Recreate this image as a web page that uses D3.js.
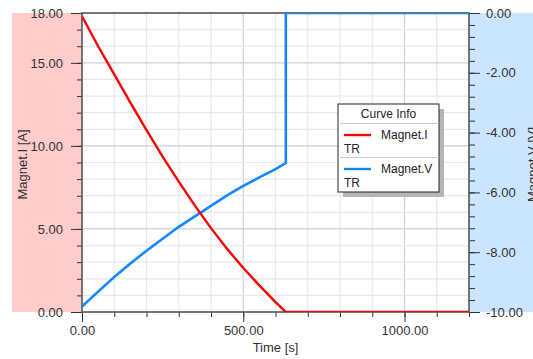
<!DOCTYPE html>
<html>
<head>
<meta charset="utf-8">
<script src="https://cdn.jsdelivr.net/npm/d3@7"></script>
<style>
  body { margin: 0; background: #fff; }
  svg { display: block; font-family: "Liberation Sans", Arial, sans-serif; }
  .tick text { fill: #333; font-size: 13px; }
  .tick line { stroke: #333; }
</style>
</head>
<body>
<div id="chart"></div>
<script>
// time [s]
const times = [0, 50, 100, 150, 200, 250, 300, 350, 400, 450, 500, 550, 600, 632, 632, 1200];
// Magnet.I [A]
const currentValues = [17.8, 16.0, 14.3, 12.6, 10.95, 9.35, 7.85, 6.4, 5.05, 3.8, 2.65, 1.6, 0.6, 0, 0, 0];
// Magnet.V [V]
const voltageValues = [-9.82, -9.32, -8.83, -8.38, -7.95, -7.55, -7.15, -6.8, -6.45, -6.1, -5.78, -5.5, -5.22, -5.02, 0, 0];

const xMajor = [0, 500, 1000];
const leftMajor = [0, 5, 10, 15, 18];
const rightMajor = [-10, -8, -6, -4, -2, 0];

const legendItems = [
  { name: 'Magnet.I', sub: 'TR', color: '#ff0000' },
  { name: 'Magnet.V', sub: 'TR', color: '#1188ff' }
];

const W = 533, H = 359;
const pL = 82, pR = 469, pT = 13, pB = 312;

const svg = d3.select('#chart').append('svg').attr('width', W).attr('height', H);

const x = d3.scaleLinear().domain([0, 1200]).range([pL, pR]);
const yL = d3.scaleLinear().domain([0, 18]).range([pB, pT]);
const yR = d3.scaleLinear().domain([-10, 0]).range([pB, pT]);

// coloured axis bands
svg.append('rect').attr('x', 12).attr('y', pT).attr('width', pL - 12).attr('height', pB - pT).attr('fill', '#ffcccc');
svg.append('rect').attr('x', pR).attr('y', pT).attr('width', W - pR).attr('height', pB - pT).attr('fill', '#cce5ff');

// gridlines
let grid = svg.append('g').attr('class', 'grid');
grid.selectAll('line.xgrid')
  .data(d3.range(100, 1200, 100))
  .enter().append('line')
  .attr('x1', d => x(d)).attr('x2', d => x(d))
  .attr('y1', pT).attr('y2', pB)
  .style('stroke', d => d % 500 === 0 ? '#cfcfcf' : '#e8e8e8')
  .style('stroke-width', 1.2);
grid.selectAll('line.ygrid')
  .data(d3.range(1, 18, 1))
  .enter().append('line')
  .attr('x1', pL).attr('x2', pR)
  .attr('y1', d => yL(d)).attr('y2', d => yL(d))
  .style('stroke', d => d % 5 === 0 ? '#cfcfcf' : '#e8e8e8')
  .style('stroke-width', 1.2);

// axes (plain hyphen for negatives, as in the original)
const fmt = d => d.toFixed(2);
svg.append('g').attr('transform', 'translate(0,' + pB + ')')
  .call(d3.axisBottom(x).tickValues(d3.range(0, 1201, 100)).tickSize(5).tickFormat(''))
  .call(g => g.select('.domain').remove());
svg.append('g').attr('transform', 'translate(0,' + pB + ')')
  .call(d3.axisBottom(x).tickValues(xMajor).tickSize(10).tickPadding(4).tickFormat(fmt))
  .call(g => g.select('.domain').remove());

svg.append('g').attr('transform', 'translate(' + pL + ',0)')
  .call(d3.axisLeft(yL).tickValues(d3.range(0, 19, 1)).tickSize(5).tickFormat(''))
  .call(g => g.select('.domain').remove());
svg.append('g').attr('transform', 'translate(' + pL + ',0)')
  .call(d3.axisLeft(yL).tickValues(leftMajor).tickSize(11).tickPadding(8).tickFormat(fmt))
  .call(g => g.select('.domain').remove());

svg.append('g').attr('transform', 'translate(' + pR + ',0)')
  .call(d3.axisRight(yR).tickValues(d3.range(0, 26).map(i => -10 + i * 0.4)).tickSize(6).tickFormat(''))
  .call(g => g.select('.domain').remove());
svg.append('g').attr('transform', 'translate(' + pR + ',0)')
  .call(d3.axisRight(yR).tickValues(rightMajor).tickSize(11).tickPadding(6).tickFormat(fmt))
  .call(g => g.select('.domain').remove());

// plot border
svg.append('rect')
  .attr('x', pL).attr('y', pT).attr('width', pR - pL).attr('height', pB - pT)
  .attr('fill', 'none').attr('stroke', '#555').attr('stroke-width', 1.6);

// curves
svg.append('clipPath').attr('id', 'plotclip')
  .append('rect').attr('x', pL).attr('y', pT).attr('width', pR - pL).attr('height', pB - pT);

let curves = svg.append('g').attr('clip-path', 'url(#plotclip)');
let iLine = d3.line().x((d, i) => x(times[i])).y(d => yL(d));
let vLine = d3.line().x((d, i) => x(times[i])).y(d => yR(d));

curves.append('path').datum(voltageValues)
  .attr('d', vLine).attr('fill', 'none')
  .attr('stroke', legendItems[1].color).attr('stroke-width', 2.6);
curves.append('path').datum(currentValues)
  .attr('d', iLine).attr('fill', 'none')
  .attr('stroke', legendItems[0].color).attr('stroke-width', 2.4);

// axis titles
svg.append('text')
  .attr('transform', 'translate(27,' + ((pT + pB) / 2 + 2) + ') rotate(-90)')
  .attr('text-anchor', 'middle').attr('font-size', 13).attr('fill', '#333')
  .text('Magnet.I [A]');
svg.append('text')
  .attr('transform', 'translate(537,' + ((pT + pB) / 2 + 2) + ') rotate(-90)')
  .attr('text-anchor', 'middle').attr('font-size', 13).attr('fill', '#333')
  .text('Magnet.V [V]');
svg.append('text')
  .attr('x', (pL + pR) / 2).attr('y', 352)
  .attr('text-anchor', 'middle').attr('font-size', 13).attr('fill', '#333')
  .text('Time [s]');

// legend
const lx = 338, ly = 104, lw = 101, lh = 88;
let legend = svg.append('g');
legend.append('rect').attr('x', lx + 5).attr('y', ly + 5).attr('width', lw).attr('height', lh).attr('fill', '#b5b5b5');
legend.append('rect').attr('x', lx).attr('y', ly).attr('width', lw).attr('height', lh)
  .attr('fill', '#fff').attr('stroke', '#222').attr('stroke-width', 1);
legend.append('text').attr('x', lx + lw / 2).attr('y', ly + 14).attr('text-anchor', 'middle')
  .attr('font-size', 12).attr('fill', '#222').text('Curve Info');
legend.append('line').attr('x1', lx).attr('x2', lx + lw).attr('y1', ly + 19.5).attr('y2', ly + 19.5)
  .attr('stroke', '#ccc');

legendItems.forEach((item, i) => {
  let oy = ly + 20 + i * 34;
  let g = legend.append('g');
  if (i > 0) {
    g.append('line').attr('x1', lx).attr('x2', lx + lw).attr('y1', oy - 0.5).attr('y2', oy - 0.5).attr('stroke', '#ccc');
  }
  g.append('line').attr('x1', lx + 6).attr('x2', lx + 33).attr('y1', oy + 11).attr('y2', oy + 11)
    .attr('stroke', item.color).attr('stroke-width', 2.4);
  g.append('text').attr('x', lx + 43).attr('y', oy + 15).attr('font-size', 12).attr('fill', '#222').text(item.name);
  g.append('text').attr('x', lx + 6).attr('y', oy + 29).attr('font-size', 12).attr('fill', '#222').text(item.sub);
});
</script>
</body>
</html>
